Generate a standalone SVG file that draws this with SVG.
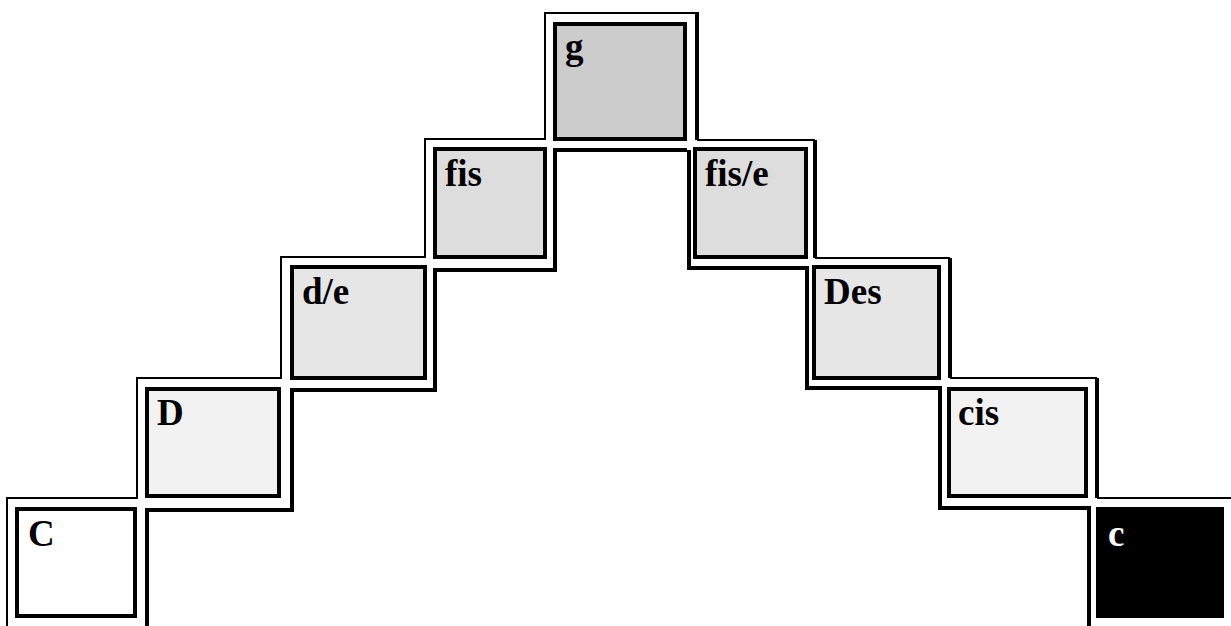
<svg xmlns="http://www.w3.org/2000/svg" width="1231" height="626" viewBox="0 0 1231 626">
<style>
.box{stroke:#000;stroke-width:4}
.thin{fill:none;stroke:#000;stroke-width:2}
.thick{fill:none;stroke:#000;stroke-width:4}
.lbl{font-family:"Liberation Serif","Times New Roman",serif;font-weight:bold;font-size:37px;fill:#000}
</style>
<rect width="1231" height="626" fill="#fff"/>
<g id="connectors">
<path class="thin" d="M7,626 V498 H137 V378 H281 V257 H425 V139 H545 V13 H697"/>
<path class="thin" d="M697,140 H815 M815,258 H950 M950,378 H1097 M1097,498 H1231"/>
<path class="thick" d="M697,12 V140 M815,140 V258 M950,258 V378 M1097,378 V498"/>
<path class="thick" d="M147,626 V510 H292 V390 H435 V270 H555 V150 H687"/>
<path class="thick" d="M689,150 V268 H807 V388 H940 V508 H1089 V626"/>
</g>
<g id="node-C"><rect class="box" x="17" y="509" width="118" height="107" fill="#ffffff"/><text class="lbl" x="28" y="546">C</text></g>
<g id="node-D"><rect class="box" x="147" y="389" width="132" height="107" fill="#f2f2f2"/><text class="lbl" x="157" y="425">D</text></g>
<g id="node-de"><rect class="box" x="292" y="267" width="133" height="111" fill="#e6e6e6"/><text class="lbl" x="302" y="304">d/e</text></g>
<g id="node-fis"><rect class="box" x="435" y="149" width="110" height="108" fill="#dddddd"/><text class="lbl" x="445" y="186">fis</text></g>
<g id="node-g"><rect class="box" x="555" y="24" width="130" height="115" fill="#cccccc"/><text class="lbl" x="565" y="59">g</text></g>
<g id="node-fise"><rect class="box" x="695" y="149" width="111" height="108" fill="#dddddd"/><text class="lbl" x="705" y="186">fis/e</text></g>
<g id="node-Des"><rect class="box" x="814" y="267" width="125" height="111" fill="#e6e6e6"/><text class="lbl" x="824" y="304">Des</text></g>
<g id="node-cis"><rect class="box" x="949" y="389" width="137" height="107" fill="#f2f2f2"/><text class="lbl" x="958" y="425">cis</text></g>
<g id="node-c"><rect x="1096" y="507" width="128" height="111" fill="#000"/><text class="lbl" x="1108" y="546" fill="#fff" style="fill:#fff">c</text></g>
</svg>
